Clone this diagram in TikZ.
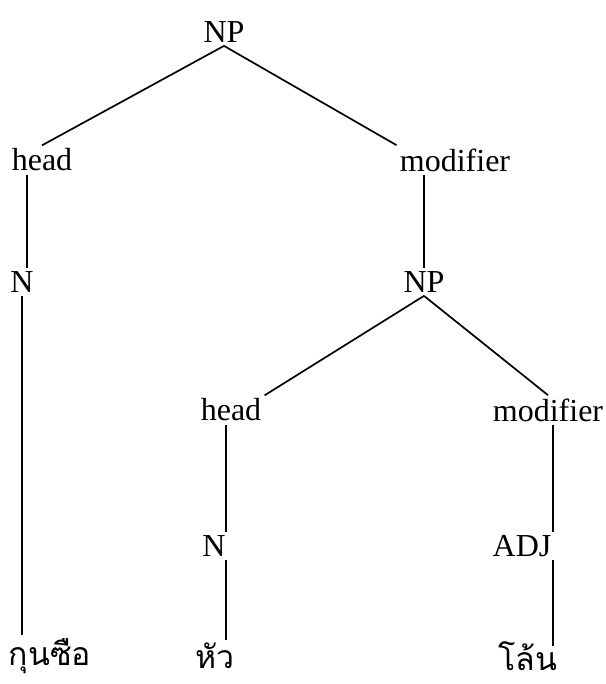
\documentclass[tikz,border=0pt]{standalone}
\usepackage{fontspec}
\setmainfont{Liberation Serif}
\newfontfamily\thaifont[Script=Thai]{Loma}
\usetikzlibrary{positioning,calc}
\tikzset{
lbl/.style={font=\fontsize{16}{18}\selectfont, inner sep=1.5pt},
word/.style={font=\thaifont\fontsize{16}{18}\selectfont, inner sep=1.5pt},
branch/.style={line width=0.85pt}
}

\begin{document}
\begin{tikzpicture}[x=0.5pt,y=-0.5pt]
\useasboundingbox (0,0) rectangle (605,684);
% upper NP
\node[lbl] (np1) at (224,32) {NP};
\node[lbl] (hd1) at (42,160) {head};
\node[lbl] (md1) at (455,160) {modifier};
\node[lbl] (n1) at (22,282) {N};
\node[lbl] (np2) at (424,282) {NP};
% lower NP
\node[lbl] (hd2) at (231,410) {head};
\node[lbl] (md2) at (548,410) {modifier};
\node[lbl] (n2) at (214,546) {N};
\node[lbl] (adj) at (522,546) {ADJ};
% words
\node[word] (w1) at (50,656) {กุนซือ};
\node[word] (w2) at (215,656) {หัว};
\node[word] (w3) at (528,656) {โล้น};

\draw[branch] (np1.south) -- (hd1.north);
\draw[branch] (np1.south) -- (md1.north west);
\draw[branch] ([xshift=2.5pt]n1.north |- hd1.south) -- ([xshift=2.5pt]n1.north);
\draw[branch] (np2.north |- md1.south) -- (np2.north);
\draw[branch] (n1.south) -- (n1.south |- w1.north);

\draw[branch] (np2.south) -- (hd2.north east);
\draw[branch] (np2.south) -- (md2.north);
\draw[branch] ([xshift=-1.5pt]n2.north east |- hd2.south) -- ([xshift=-1.5pt]n2.north east);
\draw[branch] ([xshift=-1pt]adj.north east |- md2.south) -- ([xshift=-1pt]adj.north east);
\draw[branch] ([xshift=-1.5pt]n2.south east) -- ([xshift=-1.5pt]n2.south east |- w2.north);
\draw[branch] ([xshift=-1pt]adj.south east) -- ([xshift=-1pt,yshift=-4pt]adj.south east |- w3.north);
\end{tikzpicture}
\end{document}
